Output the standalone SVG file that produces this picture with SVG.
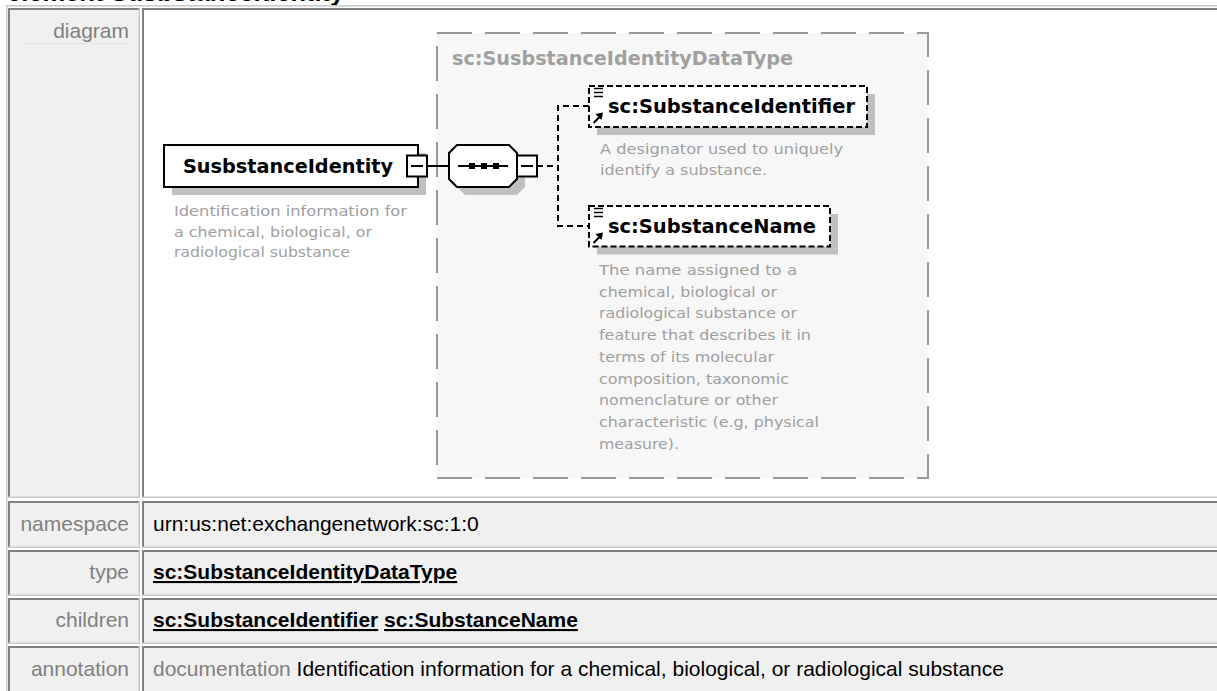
<svg xmlns="http://www.w3.org/2000/svg" width="1217" height="691" viewBox="0 0 1217 691">
<style>
.lbl{font-family:"Liberation Sans",Arial,sans-serif;font-size:21px;fill:#808080;text-anchor:end}
.val{font-family:"Liberation Sans",Arial,sans-serif;font-size:21px;fill:#000}
.link{font-weight:bold;text-decoration:underline}
.doc{fill:#808080}
.name{font-family:"DejaVu Sans",Verdana,sans-serif;font-size:19px;font-weight:bold;fill:#000}
.tname{font-family:"DejaVu Sans",Verdana,sans-serif;font-size:19px;font-weight:bold;fill:#a0a0a0}
.desc{font-family:"DejaVu Sans",Verdana,sans-serif;font-size:14.5px;fill:#a0a0a0}
.cl{fill:#f0f0f0}
.dk{stroke:#808080;stroke-width:2}
.lt{stroke:#c8c8c8;stroke-width:1.5}
.shadow{fill:#c0c0c0}
.box{fill:#fff;stroke:#000;stroke-width:2}
.dbox{fill:#fff;stroke:#000;stroke-width:2;stroke-dasharray:6 3}
.conn{fill:none;stroke:#000;stroke-width:2}
.dconn{fill:none;stroke:#000;stroke-width:2;stroke-dasharray:6 4}
.ico{stroke:#000;stroke-width:1.6;fill:none}
</style>
<rect x="0" y="0" width="1217" height="691" fill="#fff"/>
<!-- clipped page title -->
<text x="7" y="0.6" font-family="Liberation Sans, Arial, sans-serif" font-size="25.5" font-weight="bold" fill="#000">element SusbstanceIdentity</text>

<g id="table">
  <line x1="6" y1="5.75" x2="1217" y2="5.75" class="lt"/>
  <line x1="6.75" y1="5" x2="6.75" y2="691" class="lt"/>
  <!-- diagram row -->
  <rect x="8" y="8" width="132" height="490" class="cl"/>
  <rect x="142" y="8" width="1075" height="490" fill="#fff"/>
  <line x1="8" y1="9" x2="140" y2="9" class="dk"/>
  <line x1="9" y1="8" x2="9" y2="498" class="dk"/>
  <line x1="139.25" y1="8" x2="139.25" y2="498" class="lt"/>
  <line x1="8" y1="497.25" x2="140" y2="497.25" class="lt"/>
  <line x1="142" y1="9" x2="1217" y2="9" class="dk"/>
  <line x1="143" y1="8" x2="143" y2="498" class="dk"/>
  <line x1="142" y1="497.25" x2="1217" y2="497.25" class="lt"/>
  <line x1="20" y1="43.5" x2="130" y2="43.5" stroke="#e4e4e4" stroke-width="1"/>
  <text x="129" y="38" class="lbl">diagram</text>

  <!-- namespace row -->
  <rect x="8" y="501" width="132" height="47" class="cl"/>
  <rect x="142" y="501" width="1075" height="47" class="cl"/>
  <line x1="8" y1="502" x2="140" y2="502" class="dk"/>
  <line x1="9" y1="501" x2="9" y2="548" class="dk"/>
  <line x1="139.25" y1="501" x2="139.25" y2="548" class="lt"/>
  <line x1="8" y1="547.25" x2="140" y2="547.25" class="lt"/>
  <line x1="142" y1="502" x2="1217" y2="502" class="dk"/>
  <line x1="143" y1="501" x2="143" y2="548" class="dk"/>
  <line x1="142" y1="547.25" x2="1217" y2="547.25" class="lt"/>
  <text x="129" y="531" class="lbl">namespace</text>
  <text x="153" y="531" class="val">urn:us:net:exchangenetwork:sc:1:0</text>

  <!-- type row -->
  <rect x="8" y="550" width="132" height="46" class="cl"/>
  <rect x="142" y="550" width="1075" height="46" class="cl"/>
  <line x1="8" y1="551" x2="140" y2="551" class="dk"/>
  <line x1="9" y1="550" x2="9" y2="596" class="dk"/>
  <line x1="139.25" y1="550" x2="139.25" y2="596" class="lt"/>
  <line x1="8" y1="595.25" x2="140" y2="595.25" class="lt"/>
  <line x1="142" y1="551" x2="1217" y2="551" class="dk"/>
  <line x1="143" y1="550" x2="143" y2="596" class="dk"/>
  <line x1="142" y1="595.25" x2="1217" y2="595.25" class="lt"/>
  <text x="129" y="579" class="lbl">type</text>
  <text x="153" y="579" class="val link">sc:SubstanceIdentityDataType</text>

  <!-- children row -->
  <rect x="8" y="598" width="132" height="46" class="cl"/>
  <rect x="142" y="598" width="1075" height="46" class="cl"/>
  <line x1="8" y1="599" x2="140" y2="599" class="dk"/>
  <line x1="9" y1="598" x2="9" y2="644" class="dk"/>
  <line x1="139.25" y1="598" x2="139.25" y2="644" class="lt"/>
  <line x1="8" y1="643.25" x2="140" y2="643.25" class="lt"/>
  <line x1="142" y1="599" x2="1217" y2="599" class="dk"/>
  <line x1="143" y1="598" x2="143" y2="644" class="dk"/>
  <line x1="142" y1="643.25" x2="1217" y2="643.25" class="lt"/>
  <text x="129" y="627" class="lbl">children</text>
  <text x="153" y="627" class="val"><tspan class="link">sc:SubstanceIdentifier</tspan> <tspan class="link">sc:SubstanceName</tspan></text>

  <!-- annotation row -->
  <rect x="8" y="646" width="132" height="45" class="cl"/>
  <rect x="142" y="646" width="1075" height="45" class="cl"/>
  <line x1="8" y1="647" x2="140" y2="647" class="dk"/>
  <line x1="9" y1="646" x2="9" y2="691" class="dk"/>
  <line x1="139.25" y1="646" x2="139.25" y2="691" class="lt"/>
  <line x1="142" y1="647" x2="1217" y2="647" class="dk"/>
  <line x1="143" y1="646" x2="143" y2="691" class="dk"/>
  <text x="129" y="676" class="lbl">annotation</text>
  <text x="153" y="676" class="val"><tspan class="doc">documentation</tspan> Identification information for a chemical, biological, or radiological substance</text>
</g>

<g id="typebox">
  <rect x="437" y="33" width="491" height="445" fill="#f7f7f7" stroke="#999" stroke-width="2" stroke-dasharray="35 13"/>
  <text x="452" y="65" class="tname" textLength="341" lengthAdjust="spacingAndGlyphs">sc:SusbstanceIdentityDataType</text>
</g>

<g id="connectors">
  <line x1="427" y1="166" x2="449" y2="166" class="conn"/>
  <line x1="537" y1="166" x2="558" y2="166" class="dconn"/>
  <path d="M589,106 H558 V226 H589" class="dconn"/>
</g>

<g id="SusbstanceIdentity">
  <rect x="172" y="153" width="254" height="42" class="shadow"/>
  <rect x="164" y="145" width="254" height="42" class="box"/>
  <text x="183" y="173" class="name" textLength="210" lengthAdjust="spacingAndGlyphs">SusbstanceIdentity</text>
  <rect x="407" y="155.5" width="20" height="21" class="box"/>
  <line x1="411" y1="166" x2="423" y2="166" stroke="#000" stroke-width="2"/>
  <text class="desc" x="174" y="216" textLength="233" lengthAdjust="spacingAndGlyphs">Identification information for</text>
  <text class="desc" x="174" y="236.5" textLength="198" lengthAdjust="spacingAndGlyphs">a chemical, biological, or</text>
  <text class="desc" x="174" y="257" textLength="176" lengthAdjust="spacingAndGlyphs">radiological substance</text>
</g>

<g id="sequence">
  <path d="M465,153 H517 L525,161 V187 L517,195 H465 L457,187 V161 Z" class="shadow"/>
  <path d="M457,145 H509 L517,153 V179 L509,187 H457 L449,179 V153 Z" class="box"/>
  <line x1="458" y1="166" x2="508" y2="166" stroke="#000" stroke-width="2"/>
  <rect x="469" y="163" width="6" height="6" fill="#000"/>
  <rect x="481" y="163" width="6" height="6" fill="#000"/>
  <rect x="493" y="163" width="6" height="6" fill="#000"/>
  <rect x="517" y="155.5" width="20" height="21" class="box"/>
  <line x1="521" y1="166" x2="533" y2="166" stroke="#000" stroke-width="2"/>
</g>

<g id="SubstanceIdentifier">
  <rect x="597" y="94" width="278" height="41" class="shadow"/>
  <rect x="589" y="86" width="278" height="41" class="dbox"/>
  <path d="M594,88.5 H603 M594,92.5 H603 M594,96.5 H603" class="ico"/>
  <line x1="593.5" y1="123" x2="599.5" y2="117" stroke="#000" stroke-width="2.2"/>
  <polygon points="603,112.5 595.5,114 601.5,120" fill="#000"/>
  <text x="608" y="113" class="name" textLength="247" lengthAdjust="spacingAndGlyphs">sc:SubstanceIdentifier</text>
  <text class="desc" x="600" y="154" textLength="243" lengthAdjust="spacingAndGlyphs">A designator used to uniquely</text>
  <text class="desc" x="600" y="175" textLength="167" lengthAdjust="spacingAndGlyphs">identify a substance.</text>
</g>

<g id="SubstanceName">
  <rect x="597" y="214" width="241" height="40.5" class="shadow"/>
  <rect x="589" y="206" width="241" height="40.5" class="dbox"/>
  <path d="M594,208.5 H603 M594,212.5 H603 M594,216.5 H603" class="ico"/>
  <line x1="593.5" y1="243" x2="599.5" y2="237" stroke="#000" stroke-width="2.2"/>
  <polygon points="603,232.5 595.5,234 601.5,240" fill="#000"/>
  <text x="608" y="233" class="name" textLength="208" lengthAdjust="spacingAndGlyphs">sc:SubstanceName</text>
  <text class="desc" x="599" y="275" textLength="198" lengthAdjust="spacingAndGlyphs">The name assigned to a</text>
  <text class="desc" x="599" y="296.7" textLength="178" lengthAdjust="spacingAndGlyphs">chemical, biological or</text>
  <text class="desc" x="599" y="318.4" textLength="198" lengthAdjust="spacingAndGlyphs">radiological substance or</text>
  <text class="desc" x="599" y="340.1" textLength="212" lengthAdjust="spacingAndGlyphs">feature that describes it in</text>
  <text class="desc" x="599" y="361.8" textLength="175" lengthAdjust="spacingAndGlyphs">terms of its molecular</text>
  <text class="desc" x="599" y="383.5" textLength="190" lengthAdjust="spacingAndGlyphs">composition, taxonomic</text>
  <text class="desc" x="599" y="405.2" textLength="179" lengthAdjust="spacingAndGlyphs">nomenclature or other</text>
  <text class="desc" x="599" y="426.9" textLength="220" lengthAdjust="spacingAndGlyphs">characteristic (e.g, physical</text>
  <text class="desc" x="599" y="448.6" textLength="80" lengthAdjust="spacingAndGlyphs">measure).</text>
</g>
</svg>
